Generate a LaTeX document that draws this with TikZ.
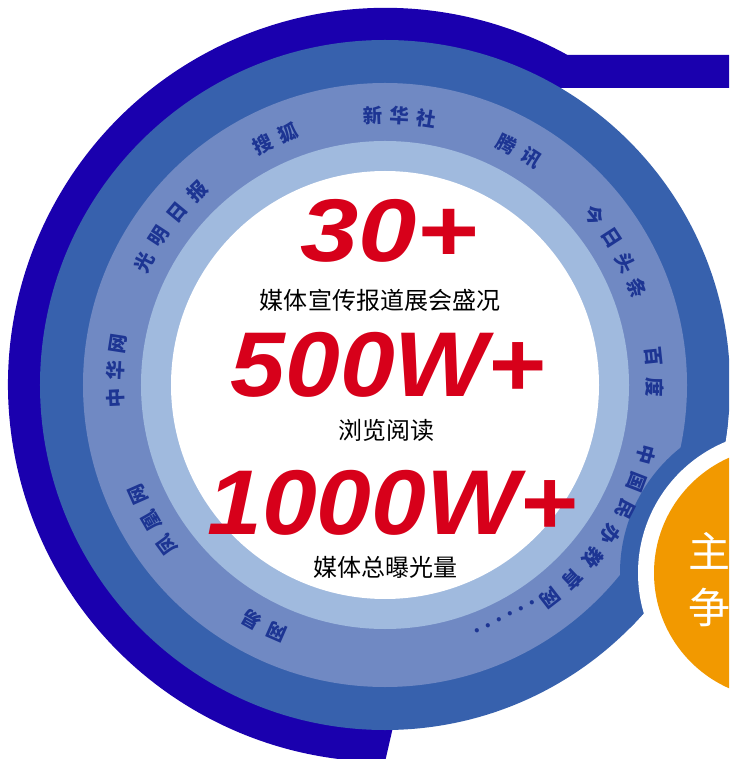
\documentclass[tikz,border=0pt]{standalone}
\usepackage{fontspec}
\setmainfont{Liberation Sans}
\newfontfamily\cjk{Noto Sans CJK SC}
\definecolor{ringdark}{HTML}{1A00AE}
\definecolor{ringmid}{HTML}{3761AD}
\definecolor{ringlight}{HTML}{7089C3}
\definecolor{ringpale}{HTML}{A0BADE}
\definecolor{numred}{HTML}{D7001A}
\definecolor{badgeorange}{HTML}{F29900}
\definecolor{labelblue}{HTML}{1D3593}
\begin{document}
\begin{tikzpicture}[x=1pt, y=1pt,
  ring/.style={font={\cjk\bfseries\fontsize{19.5}{19.5}\selectfont}, text=labelblue, inner sep=0pt},
  big/.style={font={\bfseries\itshape\fontsize{92}{92}\selectfont}, text=numred, inner sep=0pt, anchor=base, xscale=1.07},
  caption/.style={font={\cjk\fontsize{24}{24}\selectfont}, inner sep=0pt, anchor=base},
  badge/.style={font={\cjk\fontsize{42}{42}\selectfont}, text=white, inner sep=0pt, anchor=west}]
\useasboundingbox (-385,-374) rectangle (344,385);
\clip (-385,-374) rectangle (344,385);

\fill[ringdark] (350,330) -- (182.5,330) arc[start angle=61.05, end angle=270, radius=377] -- (8,-342) -- (0,0) -- (175,297) -- (350,297) -- cycle;
\fill[ringmid] (0,0) circle[radius=345];
\fill[ringlight] (0,0) circle[radius=302];
\fill[ringpale] (0,0) circle[radius=244];
\fill[white] (0,0) circle[radius=214];
\begin{scope}
\clip (0,0) circle[radius=345];
\fill[ringmid] (395,-188) circle[radius=160];
\end{scope}
\fill[white] (395,-188) circle[radius=142];
\fill[badgeorange] (395,-188) circle[radius=126];

\node[badge] (b1) at (303,-166) {主};
\node[badge] (b2) at (303,-222) {争};

\node[big, font={\bfseries\itshape\fontsize{89}{89}\selectfont}, xscale=1.1] (n30) at (4,123) {30+};
\node[caption] (c30) at (-5,75) {媒体宣传报道展会盛况};
\node[big] (n500) at (3,-12) {500W+};
\node[caption] (c500) at (1,-55) {浏览阅读};
\node[big] (n1000) at (7,-149) {1000W+};
\node[caption] (c1000) at (0,-191) {媒体总曝光量};

\node[ring, rotate=2.6] (l01) at (92.6:270) {新};
\node[ring, rotate=-3.1] (l02) at (86.9:270) {华};
\node[ring, rotate=-8.8] (l03) at (81.2:270) {社};

\node[ring, rotate=27] (l11) at (117:270) {搜};
\node[ring, rotate=21] (l12) at (111:270) {狐};

\node[ring, rotate=63] (l21) at (153:270) {光};
\node[ring, rotate=56.7] (l22) at (146.7:270) {明};
\node[ring, rotate=50.4] (l23) at (140.4:270) {日};
\node[ring, rotate=44.1] (l24) at (134.1:270) {报};

\node[ring, rotate=92.8] (l31) at (182.8:270) {中};
\node[ring, rotate=87] (l32) at (177:270) {华};
\node[ring, rotate=81.2] (l33) at (171.2:270) {网};

\node[ring, rotate=126.3] (l41) at (216.3:270) {凤};
\node[ring, rotate=120.1] (l42) at (210.1:270) {凰};
\node[ring, rotate=113.9] (l43) at (203.9:270) {网};

\node[ring, rotate=156.4] (l51) at (246.4:270) {网};
\node[ring, rotate=150.4] (l52) at (240.4:270) {易};

\node[ring, rotate=-26.7] (l61) at (63.3:270) {腾};
\node[ring, rotate=-32.9] (l62) at (57.1:270) {讯};

\node[ring, rotate=-51] (l71) at (39:270) {今};
\node[ring, rotate=-57] (l72) at (33:270) {日};
\node[ring, rotate=-63] (l73) at (27:270) {头};
\node[ring, rotate=-69] (l74) at (21:270) {条};

\node[ring, rotate=-84] (l81) at (6:270) {百};
\node[ring, rotate=-90.4] (l82) at (-0.4:270) {度};

\node[ring, rotate=-105] (l91) at (-15:270) {中};
\node[ring, rotate=-111.2] (l92) at (-21.2:270) {国};
\node[ring, rotate=-117.4] (l93) at (-27.4:270) {民};
\node[ring, rotate=-123.6] (l94) at (-33.6:270) {办};
\node[ring, rotate=-129.8] (l95) at (-39.8:270) {教};
\node[ring, rotate=-136] (l96) at (-46:270) {育};
\node[ring, rotate=-142.2] (l97) at (-52.2:270) {网};

\node[ring, rotate=-152.75] (dots) at (-62.75:261) {\makebox[12.4pt]{.}\makebox[12.4pt]{.}\makebox[12.4pt]{.}\makebox[12.4pt]{.}\makebox[12.4pt]{.}\makebox[12.4pt]{.}};
\end{tikzpicture}
\end{document}
